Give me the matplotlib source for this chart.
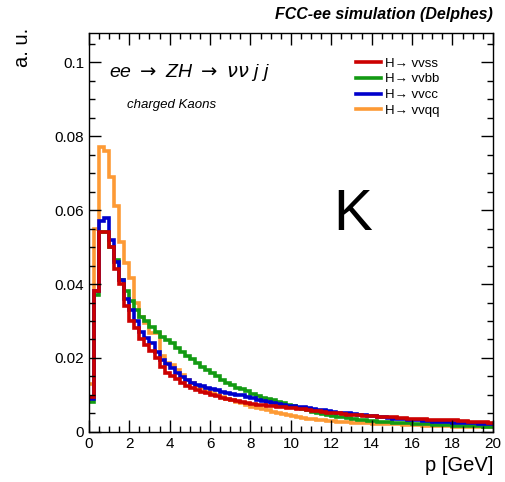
import matplotlib
matplotlib.use("Agg")
import matplotlib.pyplot as plt
from matplotlib.ticker import MultipleLocator
import numpy as np

plt.rcParams['font.family'] = ['Liberation Sans', 'DejaVu Sans']

# histogram binning: 80 bins of 0.25 GeV from 0 to 20 GeV
bin_edges = np.linspace(0, 20, 81)

h_vvss = [
    0.0095, 0.038, 0.054, 0.054, 0.050, 0.044, 0.040, 0.034,
    0.030, 0.028, 0.025, 0.0235, 0.022, 0.020, 0.0175, 0.016,
    0.0152, 0.0143, 0.0133, 0.0125, 0.0119, 0.0114, 0.0108, 0.0104,
    0.0100, 0.0096, 0.0092, 0.0089, 0.0086, 0.0084, 0.0082, 0.0079,
    0.0076, 0.0074, 0.0072, 0.0071, 0.0069, 0.0068, 0.0066, 0.0065,
    0.0064, 0.0062, 0.0061, 0.0059, 0.0057, 0.0056, 0.0054, 0.0052,
    0.0051, 0.0050, 0.0048, 0.0047, 0.0046, 0.0045, 0.0044, 0.0043,
    0.0042, 0.0041, 0.0040, 0.0039, 0.0039, 0.0038, 0.0037, 0.0036,
    0.0035, 0.0035, 0.0034, 0.0033, 0.0033, 0.0032, 0.0032, 0.0031,
    0.0031, 0.0030, 0.0029, 0.0028, 0.0028, 0.0027, 0.0026, 0.0025,
]
h_vvbb = [
    0.008, 0.037, 0.054, 0.054, 0.050, 0.0465, 0.041, 0.038,
    0.0355, 0.033, 0.031, 0.030, 0.0285, 0.027, 0.0258, 0.0248,
    0.024, 0.0228, 0.0215, 0.0205, 0.0196, 0.0187, 0.0176, 0.0168,
    0.0158, 0.0150, 0.0140, 0.0133, 0.0127, 0.0120, 0.0116, 0.0110,
    0.0103, 0.0098, 0.0093, 0.0089, 0.0085, 0.0081, 0.0077, 0.0073,
    0.0069, 0.0065, 0.0062, 0.0058, 0.0055, 0.0052, 0.0049, 0.0046,
    0.0044, 0.0041, 0.0039, 0.0037, 0.0034, 0.0033, 0.0031, 0.0030,
    0.0029, 0.0028, 0.0027, 0.0026, 0.0025, 0.0024, 0.0023, 0.0023,
    0.0022, 0.0021, 0.0021, 0.0020, 0.0019, 0.0019, 0.0018, 0.0018,
    0.0017, 0.0017, 0.0016, 0.0016, 0.0015, 0.0015, 0.0014, 0.0014,
]
h_vvcc = [
    0.009, 0.038, 0.057, 0.058, 0.052, 0.046, 0.041, 0.036,
    0.033, 0.030, 0.027, 0.0255, 0.024, 0.0215, 0.0195, 0.0185,
    0.0172, 0.016, 0.0148, 0.0140, 0.0133, 0.0127, 0.0123, 0.0119,
    0.0116, 0.0112, 0.0109, 0.0106, 0.0103, 0.0101, 0.0099, 0.0094,
    0.0091, 0.0087, 0.0083, 0.0080, 0.0077, 0.0075, 0.0073, 0.0071,
    0.0070, 0.0068, 0.0067, 0.0064, 0.0062, 0.0060, 0.0058, 0.0056,
    0.0054, 0.0052, 0.0051, 0.0050, 0.0049, 0.0047, 0.0045, 0.0043,
    0.0042, 0.0040, 0.0039, 0.0038, 0.0036, 0.0035, 0.0034, 0.0033,
    0.0032, 0.0031, 0.0030, 0.0029, 0.0028, 0.0027, 0.0027, 0.0026,
    0.0025, 0.0025, 0.0024, 0.0023, 0.0023, 0.0022, 0.0022, 0.0021,
]
h_vvqq = [
    0.013, 0.055, 0.077, 0.076, 0.069, 0.061, 0.0514, 0.0457,
    0.0416, 0.0348, 0.031, 0.0294, 0.0267, 0.0267, 0.0204, 0.0186,
    0.0180, 0.0168, 0.0155, 0.0140, 0.0132, 0.0125, 0.0118, 0.0112,
    0.0106, 0.0100, 0.0095, 0.0090, 0.0085, 0.0080, 0.0077, 0.0072,
    0.0068, 0.0065, 0.0061, 0.0058, 0.0054, 0.0051, 0.0048, 0.0045,
    0.0042, 0.0040, 0.0038, 0.0036, 0.0034, 0.0032, 0.0031, 0.0030,
    0.0029, 0.0028, 0.0027, 0.0026, 0.0025, 0.0024, 0.0024, 0.0023,
    0.0022, 0.0022, 0.0021, 0.0021, 0.0020, 0.0020, 0.0019, 0.0019,
    0.0018, 0.0018, 0.0017, 0.0017, 0.0016, 0.0016, 0.0015, 0.0015,
    0.0014, 0.0014, 0.0014, 0.0013, 0.0013, 0.0013, 0.0012, 0.0012,
]

labels = ['H\u2192 vvss', 'H\u2192 vvbb', 'H\u2192 vvcc', 'H\u2192 vvqq']
colors = ['#cc0000', '#139a13', '#0000cc', '#fd9a35']

fig = plt.figure(figsize=(5.05, 4.82), dpi=100)
ax = fig.add_axes([0.176, 0.104, 0.800, 0.828])

series = [h_vvss, h_vvbb, h_vvcc, h_vvqq]
handles = [None] * 4
# draw orange first so red ends on top, like the original
for i in [3, 1, 2, 0]:
    handles[i] = ax.stairs(series[i], bin_edges, color=colors[i], linewidth=2.6, baseline=None)

ax.set_xlim(0, 20)
ax.set_ylim(0, 0.108)
ax.xaxis.set_major_locator(MultipleLocator(2))
ax.xaxis.set_minor_locator(MultipleLocator(0.5))
ax.yaxis.set_minor_locator(MultipleLocator(0.005))
ax.set_yticks([0, 0.02, 0.04, 0.06, 0.08, 0.1])
ax.set_yticklabels(['0', '0.02', '0.04', '0.06', '0.08', '0.1'])
ax.tick_params(which='both', direction='in', top=True, right=True, labelsize=11)
ax.tick_params(which='major', length=8.5, width=1)
ax.tick_params(which='minor', length=4.3, width=1)
for s in ax.spines.values():
    s.set_linewidth(1)

ax.set_xlabel('p [GeV]', fontsize=14.5, loc='right')
ax.set_ylabel('a. u.', fontsize=14.5, loc='top')
ax.yaxis.set_label_coords(-0.14, 1.012)

fig.text(0.976, 0.955, 'FCC-ee simulation (Delphes)', ha='right', va='bottom',
         fontsize=11.5, fontweight='bold', style='italic')
ax.text(0.05, 0.90, r'ee $\rightarrow$ ZH $\rightarrow$ $\nu\nu$ j j', transform=ax.transAxes,
        fontsize=14, style='italic', va='center')
ax.text(0.095, 0.82, 'charged Kaons', transform=ax.transAxes, fontsize=9.5,
        style='italic', va='center')
ax.text(0.604, 0.505, 'K', transform=ax.transAxes, fontsize=42, va='baseline')

ax.legend([handles[i] for i in range(4)], labels, loc='upper left',
          bbox_to_anchor=(0.632, 0.968), frameon=False, fontsize=9.5,
          handlelength=1.9, handletextpad=0.3, labelspacing=0.27)

fig.savefig('out.png', dpi=100)
